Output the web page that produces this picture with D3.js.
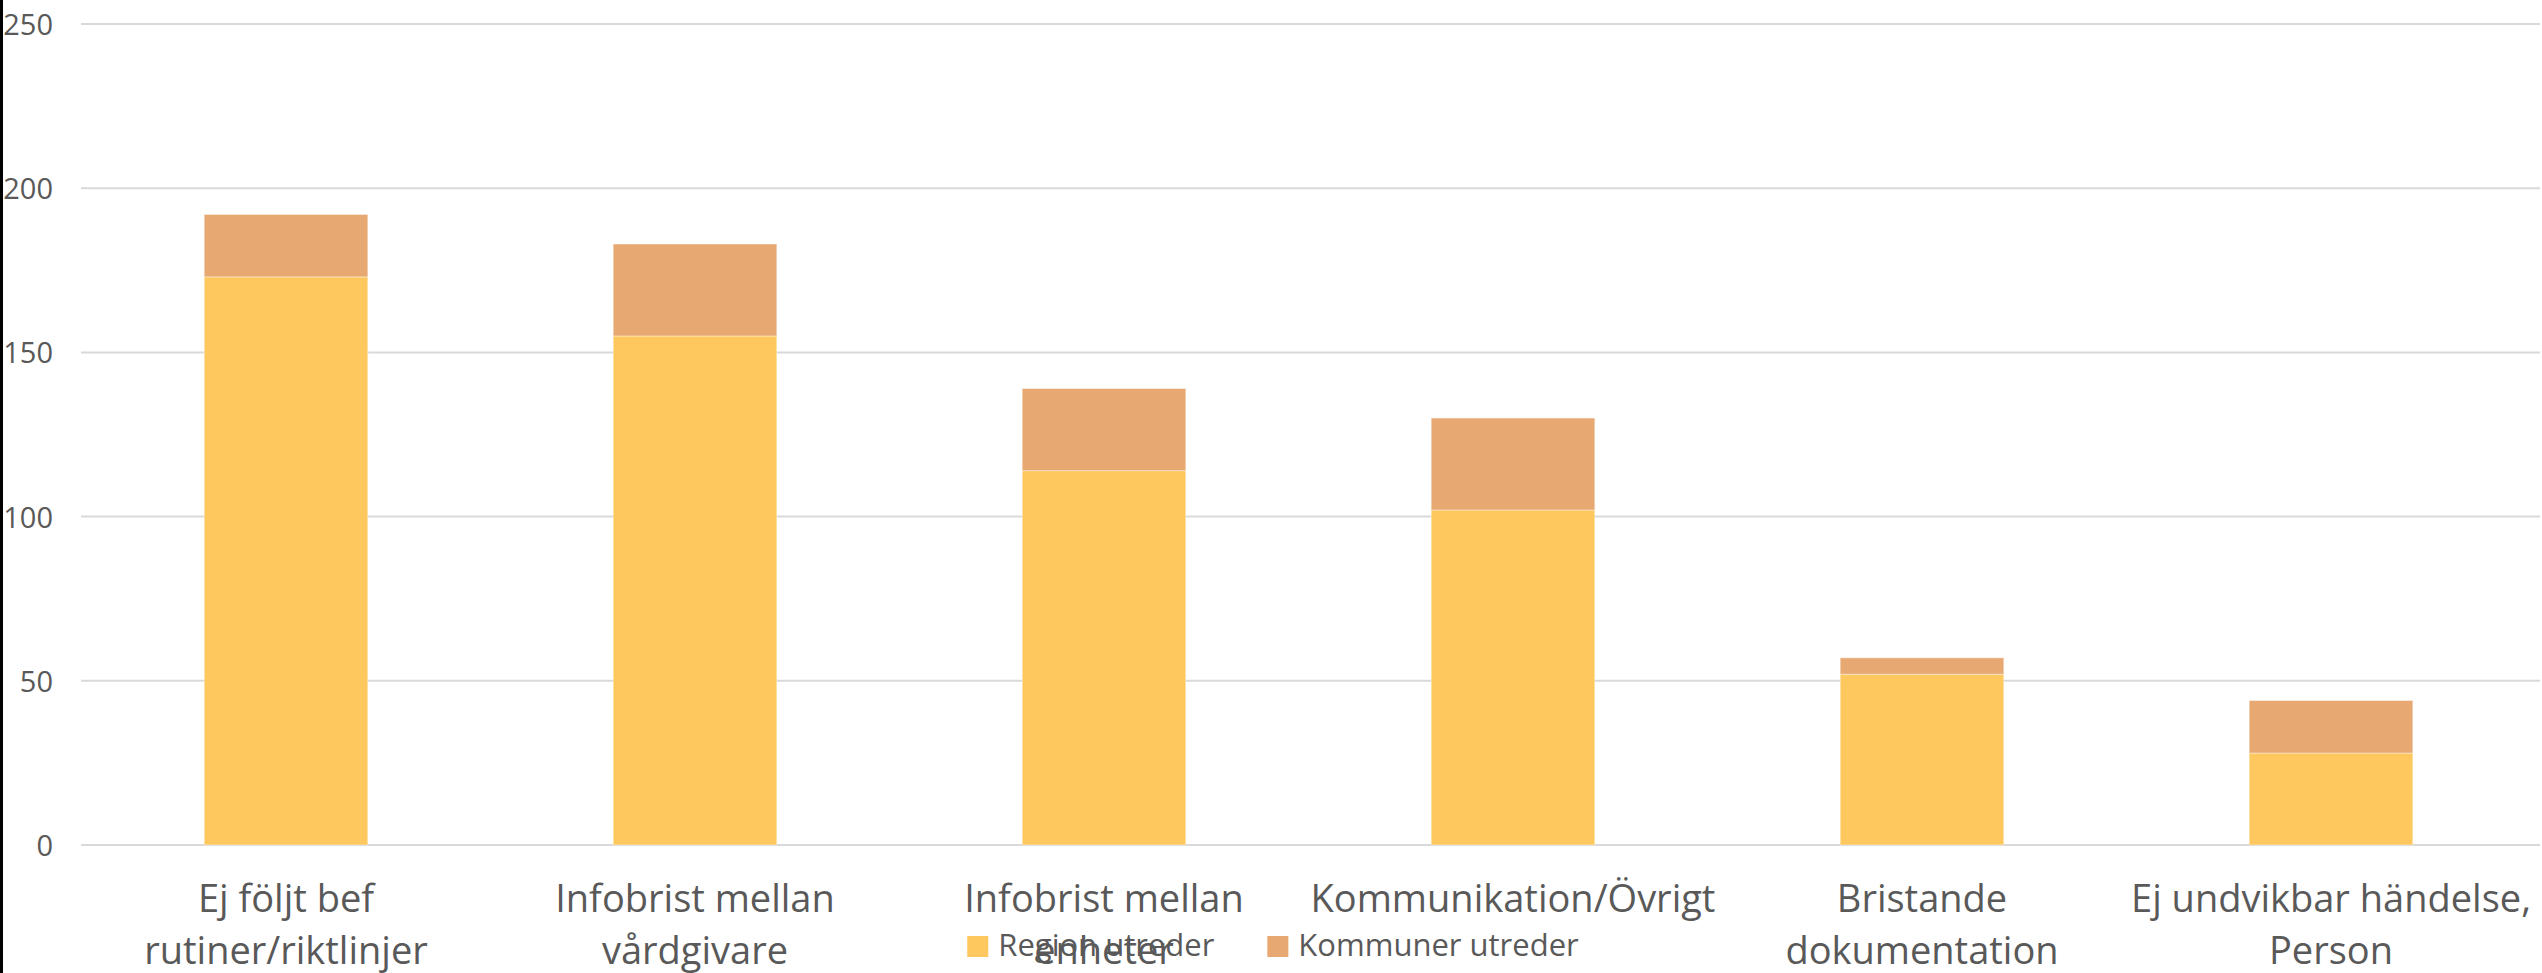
<!DOCTYPE html>
<html><head><meta charset="utf-8">
<script src="https://cdn.jsdelivr.net/npm/d3@7"></script>
<style>
html,body{margin:0;padding:0;background:#fff;overflow:hidden}
text{font-family:"Open Sans",sans-serif;fill:#595959}
</style></head>
<body>
<svg id="chart" width="2542" height="973"></svg>
<script>
const categories = ["Ej följt bef rutiner/riktlinjer","Infobrist mellan vårdgivare","Infobrist mellan enheter","Kommunikation/Övrigt","Bristande dokumentation","Ej undvikbar händelse, Person"];
const seriesNames = ["Region utreder","Kommuner utreder"];
const regionValues = [173,155,114,102,52,28];
const kommunValues = [19,28,25,28,5,16];
const yTicks = [0,50,100,150,200,250];
const colors = ["#FEC85E","#E8A872"];

const W = 2542, H = 973;
const svg = d3.select("#chart");
svg.append("rect").attr("x",0).attr("y",0).attr("width",W).attr("height",H).attr("fill","#fff");
svg.append("rect").attr("x",0).attr("y",0).attr("width",3).attr("height",H).attr("fill","#000");

const x = d3.scaleBand().domain(categories).range([81.5,2535.5]).paddingInner(0.6).paddingOuter(0.3);
const y = d3.scaleLinear().domain([0,250]).range([845,24]);

// gridlines
svg.append("g").selectAll("line").data(yTicks).enter().append("line")
  .attr("x1",81).attr("x2",2540).attr("y1",d=>y(d)).attr("y2",d=>y(d))
  .attr("stroke","#d9d9d9").attr("stroke-width",2);
const yAxis = d3.axisLeft(y).tickValues(yTicks).tickSize(0).tickPadding(0);
const ax = svg.append("g").attr("transform","translate(53,0)").call(yAxis);
ax.select(".domain").remove();
ax.selectAll("text").attr("font-size",29).attr("fill","#595959").attr("dy","0.36em")
  .style("font-family",'"Open Sans",sans-serif');

// stacked data
const rows = categories.map((c,i)=>({cat:c, r:regionValues[i], k:kommunValues[i]}));
const stack = d3.stack().keys(["r","k"])(rows);
svg.append("g").selectAll("g").data(stack).enter().append("g")
  .attr("fill",(d,i)=>colors[i])
  .selectAll("rect").data(d=>d).enter().append("rect")
  .attr("x",d=>x(d.data.cat)).attr("width",x.bandwidth())
  .attr("y",d=>y(d[1])).attr("height",d=>y(d[0])-y(d[1]))
  .attr("stroke","rgba(255,255,255,0.4)").attr("stroke-width",1);

// x labels
const xl = svg.append("g");
const maxW = 412;
categories.forEach(c=>{
  const cxp = x(c)+x.bandwidth()/2;
  const t = xl.append("text").attr("x",cxp).attr("y",912)
    .attr("text-anchor","middle").attr("font-size",38);
  const words = c.split(" ");
  let line = [];
  let ts = t.append("tspan").attr("x",cxp);
  words.forEach(w=>{
    line.push(w);
    ts.text(line.join(" "));
    if (ts.node().getComputedTextLength() > maxW && line.length>1){
      line.pop(); ts.text(line.join(" "));
      line=[w];
      ts = t.append("tspan").attr("x",cxp).attr("dy",52).text(w);
    }
  });
});

// legend
const lg = svg.append("g");
let cx = 0;
const gap = 53;
seriesNames.forEach((n,i)=>{
  const g = lg.append("g").attr("transform",`translate(${cx},0)`);
  g.append("rect").attr("x",0).attr("y",936).attr("width",21).attr("height",21).attr("fill",colors[i]);
  const t = g.append("text").attr("x",31).attr("y",956).attr("font-size",31).text(n);
  cx += 31 + t.node().getComputedTextLength() + gap;
});
const totalW = cx - gap;
lg.attr("transform",`translate(${1273 - totalW/2},0)`);
</script>
</body></html>
